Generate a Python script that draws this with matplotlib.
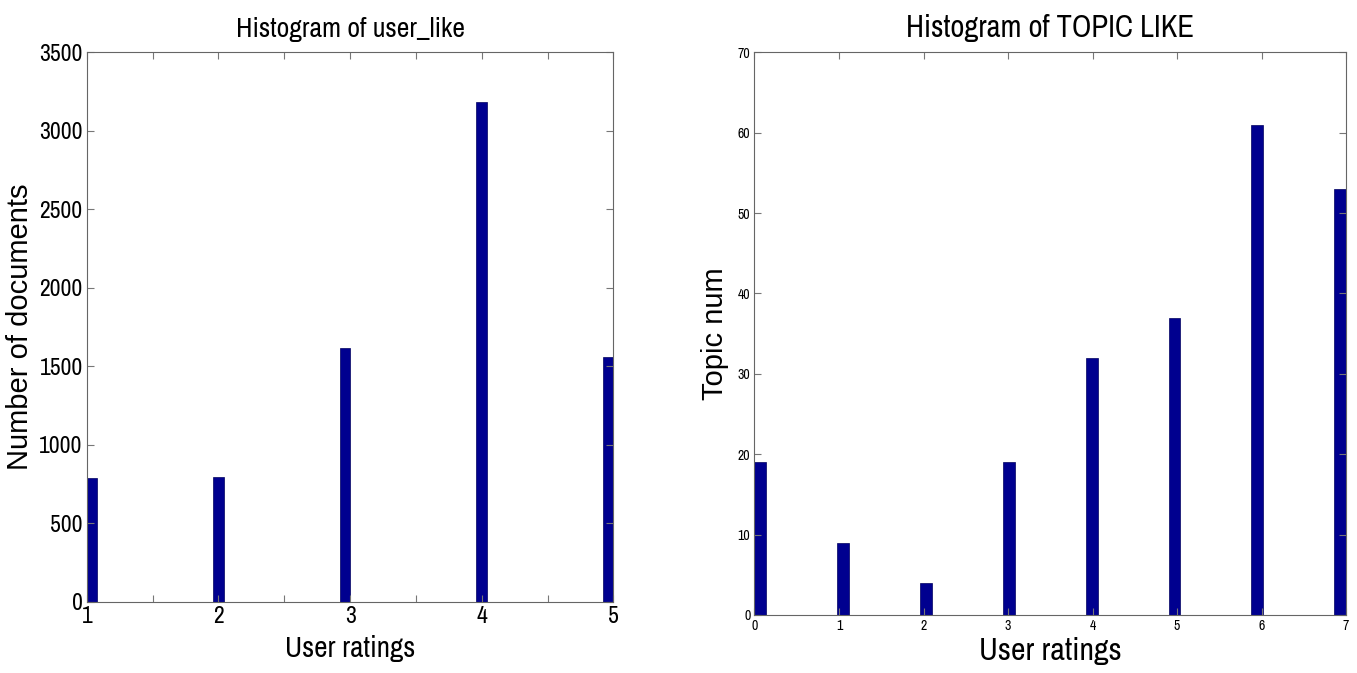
import numpy as np
import matplotlib.pyplot as plt

# left panel: user_like histogram (bin centres)
like_x = [1.04, 2.00, 2.96, 4.00, 4.96]
like_counts = [790, 795, 1615, 3185, 1560]
like_binw = 0.08

# right panel: topic like histogram
topic_x = [0.07, 1.05, 2.03, 3.01, 3.99, 4.97, 5.95, 6.93]
topic_counts = [19, 9, 4, 19, 32, 37, 61, 53]
topic_binw = 0.14

bar_color = '#00008F'
narrow = ['Archivo Narrow', 'DejaVu Sans']
arial = ['Liberation Sans', 'DejaVu Sans']

fig = plt.figure(figsize=(13.57, 6.73), dpi=100)

# ---- left
ax1 = fig.add_axes([0.064, 0.1055, 0.388, 0.817])
ax1.bar(like_x, like_counts, width=like_binw, color=bar_color, edgecolor='#000060', linewidth=0.5)
ax1.set_xlim(1, 5)
ax1.set_ylim(0, 3500)
ax1.set_xticks(np.arange(1, 5.01, 0.5))
ax1.set_xticklabels(['1', '', '2', '', '3', '', '4', '', '5'])
ax1.set_yticks(np.arange(0, 3501, 500))
ax1.tick_params(direction='in', top=True, right=True, length=5, color='#777777', labelsize=17, pad=3)
for lab in ax1.get_xticklabels() + ax1.get_yticklabels():
    lab.set_family(narrow)
ax1.set_title('Histogram of user_like', fontsize=20, family=narrow, pad=11)
ax1.set_xlabel('User ratings', fontsize=21, family=narrow, labelpad=6)
ax1.set_ylabel('Number of documents', fontsize=21, family=arial)
ax1.yaxis.set_label_coords(-0.1, 0.5)
for s in ax1.spines.values():
    s.set_color('#666666')

# ---- right
ax2 = fig.add_axes([0.556, 0.0862, 0.436, 0.836])
ax2.bar(topic_x, topic_counts, width=topic_binw, color=bar_color, edgecolor='#000060', linewidth=0.5)
ax2.set_xlim(0, 7)
ax2.set_ylim(0, 70)
ax2.set_xticks(range(0, 8))
ax2.set_yticks(range(0, 71, 10))
ax2.tick_params(direction='in', top=True, right=True, length=5, color='#777777', labelsize=10, pad=3)
for lab in ax2.get_xticklabels() + ax2.get_yticklabels():
    lab.set_family(narrow)
ax2.set_title('Histogram of TOPIC LIKE', fontsize=22, family=narrow, pad=11)
ax2.set_xlabel('User ratings', fontsize=23, family=narrow, labelpad=3)
ax2.set_ylabel('Topic num', fontsize=21, family=arial)
ax2.yaxis.set_label_coords(-0.043, 0.5)
for s in ax2.spines.values():
    s.set_color('#666666')

fig.savefig('out.png', dpi=100)
